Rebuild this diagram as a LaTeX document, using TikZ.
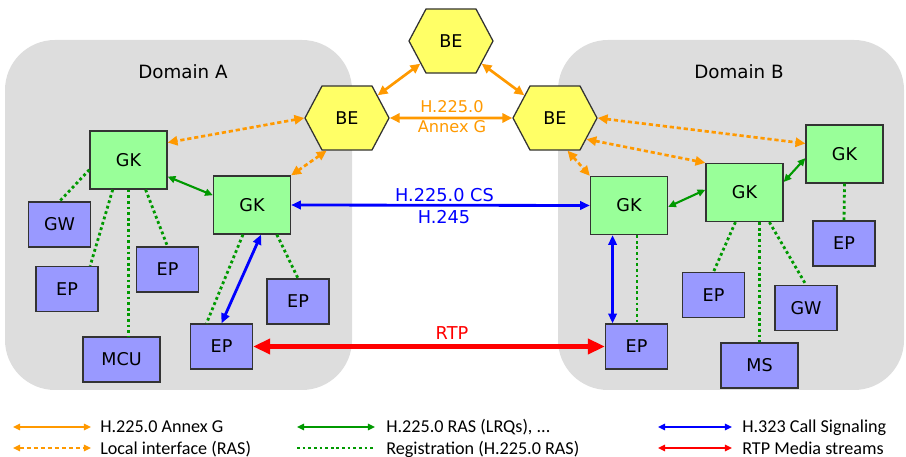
\documentclass[tikz,border=0pt]{standalone}
\usepackage{fontspec}
\setmainfont{DejaVu Sans}
\newfontfamily\legendfont{Carlito}
\usetikzlibrary{shapes.symbols,arrows.meta}
\definecolor{beyellow}{HTML}{FFFF66}
\definecolor{gkgreen}{HTML}{99FF99}
\definecolor{epblue}{HTML}{9999FF}
\definecolor{domgray}{HTML}{DDDDDD}
\definecolor{annexorange}{HTML}{FF9900}
\definecolor{rasgreen}{HTML}{009900}
\begin{document}
\begin{tikzpicture}[x=0.025cm,y=-0.025cm,
  every node/.style={inner sep=0pt},
  box/.style={draw=black!80,line width=0.9pt,minimum width=1.55cm,minimum height=1.125cm,font=\fontsize{12.5}{15}\selectfont},
  gk/.style={box,fill=gkgreen,minimum width=1.925cm,minimum height=1.45cm},
  ep/.style={box,fill=epblue},
  wide/.style={ep,minimum width=1.925cm},
  be/.style={shape=signal,signal to=east and west,signal pointer angle=124,draw=black!80,line width=0.9pt,fill=beyellow,minimum width=2.1cm,minimum height=1.6cm,font=\fontsize{12.5}{15}\selectfont},
  annex/.style={annexorange,line width=1.9pt,arrows={Triangle[length=7pt,width=6.5pt]-Triangle[length=7pt,width=6.5pt]}},
  local/.style={annex,dash pattern=on 3pt off 2pt},
  lrq/.style={rasgreen,line width=1.5pt,arrows={Triangle[length=5.5pt,width=5pt]-Triangle[length=5.5pt,width=5pt]}},
  reg/.style={rasgreen,line width=2pt,dash pattern=on 2pt off 2pt},
  call/.style={blue,line width=2pt,arrows={Triangle[length=7pt,width=6pt]-Triangle[length=7pt,width=6pt]}},
  rtp/.style={red,line width=4pt,arrows={Triangle[length=12pt,width=10.5pt]-Triangle[length=12pt,width=10.5pt]}},
  lbl/.style={font=\fontsize{12.6}{15}\selectfont},
  key/.style={line width=1.4pt,arrows={Triangle[length=5pt,width=4.5pt]-Triangle[length=5pt,width=4.5pt]}},
  legtext/.style={anchor=base west,font=\legendfont\fontsize{12.9}{15}\selectfont}]
\useasboundingbox (0,0) rectangle (906,457);
\fill[domgray,rounded corners=1.25cm] (5,40) rectangle (352,390);
\fill[domgray,rounded corners=1.25cm] (558,40) rectangle (904,390);
\node[font=\fontsize{13}{15}\selectfont] (doma) at (183,72) {Domain A};
\node[font=\fontsize{13}{15}\selectfont] (domb) at (739,72) {Domain B};

\node[be] (BEt) at (451,41) {BE};
\node[be] (BEl) at (347,118) {BE};
\node[be] (BEr) at (555,118) {BE};

\node[gk] (GKa) at (128.5,160) {GK};
\node[gk] (GKb) at (252,205) {GK};
\node[ep] (GW) at (59.5,224.5) {GW};
\node[ep] (EPa1) at (67,289) {EP};
\node[ep] (EPa2) at (167.5,269.5) {EP};
\node[wide] (MCU) at (121.5,359.5) {MCU};
\node[ep] (EPa) at (221.5,346.5) {EP};
\node[ep] (EPa3) at (298,301.5) {EP};

\node[gk] (GKc) at (629,205.5) {GK};
\node[gk] (GKd) at (744.5,192.5) {GK};
\node[gk] (GKe) at (844.5,154) {GK};
\node[ep] (EPb4) at (844,243.5) {EP};
\node[ep] (EPb2) at (713.5,295) {EP};
\node[ep] (GWb) at (806,308) {GW};
\node[wide] (MS) at (759.5,365.5) {MS};
\node[ep] (EPb) at (636.5,346.5) {EP};

\draw[annex] (BEt) -- (BEl);
\draw[annex] (BEt) -- (BEr);
\draw[annex] (BEl) -- (BEr);
\node[lbl,annexorange,font=\fontsize{11.5}{14}\selectfont] (annexa) at (452,107) {H.225.0};
\node[lbl,annexorange,font=\fontsize{11.5}{14}\selectfont] (annexb) at (452,127) {Annex G};

\draw[local] (BEl.west) -- (GKa.24);
\draw[local] (BEl.238) -- (GKb.north east);
\draw[local] (BEr.291) -- (GKc.north west);
\draw[local] (BEr.326) -- (GKd.north west);
\draw[local] (BEr.east) -- (GKe.165);

\draw[lrq] (GKa.337) -- (GKb.166);
\draw[lrq] (GKc.358) -- (GKd.176);
\draw[lrq] (GKd.15) -- (GKe.186);

\draw[call] (GKb.east) -- (GKc.west);
\node[lbl,blue] (csa) at (444.5,195) {H.225.0 CS};
\node[lbl,blue] (csb) at (444,217) {H.245};
\draw[call] (GKb.287) -- (EPa.north);
\draw[call] (GKc.241) -- (GKc.241 |- EPb.north);

\draw[rtp] (EPa.east) -- (EPb.west);
\node[lbl,red] (rtpl) at (452,333) {RTP};

\draw[reg] (GKa.194) -- (GW.north);
\draw[reg] (GKa.242) -- (EPa1.45);
\draw[reg] (GKa.south) -- (GKa.south |- MCU.north);
\draw[reg] (GKa.300) -- (EPa2.north);
\draw[reg] (GKb.253) -- (EPa.123);
\draw[reg] (GKb.310) -- (EPa3.north);
\draw[reg] (GKc.285) -- (GKc.285 |- EPb.north);
\draw[reg] (GKd.253) -- (EPb2.north);
\draw[reg] (MS.north |- GKd.south) -- (MS.north);
\draw[reg] (GKd.310) -- (GWb.north);
\draw[reg] (GKe.south) -- (EPb4.north);

\coordinate (ka1) at (13,427); \coordinate (ka2) at (91,427);
\coordinate (kb1) at (13,448); \coordinate (kb2) at (91,448);
\coordinate (kc1) at (297,427); \coordinate (kc2) at (375,427);
\coordinate (kd1) at (297,448); \coordinate (kd2) at (375,448);
\coordinate (ke1) at (658,427); \coordinate (ke2) at (732,427);
\coordinate (kf1) at (658,448); \coordinate (kf2) at (732,448);
\draw[annex,key] (ka1) -- (ka2);
\draw[local,key] (kb1) -- (kb2);
\draw[lrq,key] (kc1) -- (kc2);
\draw[reg,line width=1.6pt] (kd1) -- (kd2);
\draw[call,key] (ke1) -- (ke2);
\draw[rtp,key] (kf1) -- (kf2);
\node[legtext] (ta) at (100,433) {H.225.0 Annex G};
\node[legtext] (tb) at (100,454) {Local interface (RAS)};
\node[legtext] (tc) at (386,433) {H.225.0 RAS (LRQs), ...};
\node[legtext] (td) at (386,454) {Registration (H.225.0 RAS)};
\node[legtext] (te) at (742,433) {H.323 Call Signaling};
\node[legtext] (tf) at (742,454) {RTP Media streams};
\end{tikzpicture}
\end{document}
